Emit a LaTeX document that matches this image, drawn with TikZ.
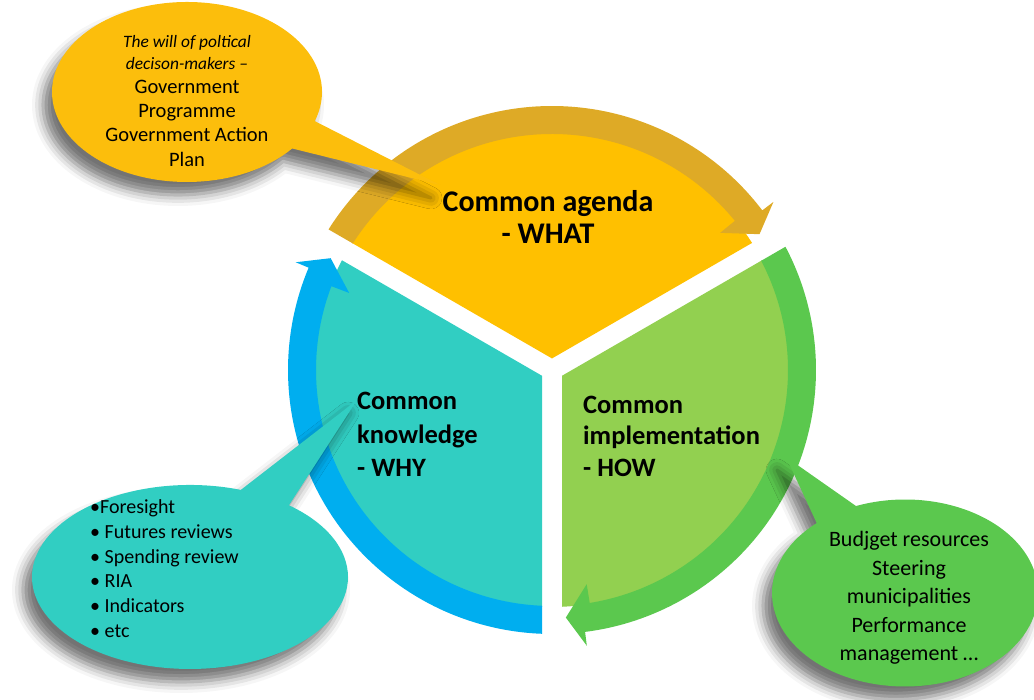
\documentclass[tikz,border=0pt]{standalone}
\usepackage{fontspec}
\setmainfont{Carlito}
\usetikzlibrary{shapes.callouts,shadows.blur}
\definecolor{agendaFill}{HTML}{FFC000}
\definecolor{agendaBand}{HTML}{DEAA26}
\definecolor{agendaNote}{HTML}{FCBE0C}
\definecolor{whyFill}{HTML}{31CEC2}
\definecolor{whyBand}{HTML}{00AEEF}
\definecolor{howFill}{HTML}{92D050}
\definecolor{howBand}{HTML}{5BC84E}

% one slice of the wheel, pulled away from the hub to leave a white gap
\newcommand{\slice}[3]{%
  \fill[#1] ({(#2+#3)/2}:11.55) -- ({#3-\dR}:\R)
    arc[start angle={#3-\dR}, end angle={#2+\dR}, radius=\R] -- cycle;}
% band with arrow head, running clockwise from angle #2 down to angle #3
\newcommand{\ringarrow}[3]{%
  \fill[#1] ({#2-\dO}:\ro) arc[start angle={#2-\dO}, end angle={#3+7.2}, radius=\ro]
    -- ({#3+7.2}:278) -- ({#3+3.2}:248) -- ({#3+9.2}:217) -- ({#3+9.2}:\ri)
    arc[start angle={#3+9.2}, end angle={#2-\dI}, radius=\ri] -- cycle;}

\begin{document}
\begin{tikzpicture}[x=1pt, y=1pt,
        note/.style={
            ellipse callout,
            draw=none,
            inner sep=0pt,
            callout pointer arc=20,
            blur shadow={shadow xshift=-9pt, shadow yshift=-13pt,
                shadow blur radius=11pt, shadow opacity=55}
        },
        toplabel/.style={
            font=\fontsize{30}{36}\selectfont\bfseries,
            anchor=base,
            inner sep=0pt
        },
        sidelabel/.style={
            font=\fontsize{26.5}{33}\selectfont\bfseries,
            anchor=base west,
            inner sep=0pt
        },
        willtext/.style={
            font=\fontsize{17.4}{23}\selectfont\itshape,
            anchor=base,
            inner sep=0pt
        },
        notetext/.style={
            font=\fontsize{20.5}{24}\selectfont,
            anchor=base,
            inner sep=0pt
        },
        listtext/.style={
            font=\fontsize{20}{24}\selectfont,
            anchor=base west,
            inner sep=0pt
        },
        howtext/.style={
            font=\fontsize{22}{28}\selectfont,
            anchor=base,
            inner sep=0pt
        }
    ]

    \useasboundingbox (0,0) rectangle (1034,700);
    \coordinate (hub) at (552,330);

    \def\R{237}  \def\dR{2.42}
    \def\ro{264} \def\dO{2.17}
    \def\ri{236} \def\dI{2.43}

    % the wheel
    \begin{scope}[shift={(hub)}]
        \slice{agendaFill}{30}{150}
        \slice{whyFill}{150}{270}
        \slice{howFill}{-90}{30}
        \ringarrow{agendaBand}{150}{30}
        \ringarrow{whyBand}{270}{150}
        \ringarrow{howBand}{30}{-90}
    \end{scope}

    \foreach \txt [count=\i] in {Common agenda, - WHAT}{
        \node[toplabel] (agenda\i) at (548, {488.3-(\i-1)*32.3}) {\txt};
    }
    \foreach \txt [count=\i] in {Common, knowledge, - WHY}{
        \node[sidelabel] (why\i) at (357, {290-(\i-1)*33.5}) {\txt};
    }
    \foreach \txt [count=\i] in {Common, implementation, - HOW}{
        \node[sidelabel] (how\i) at (583, {286.7-(\i-1)*31.7}) {\txt};
    }

    % speech bubbles
    \node[note, fill=agendaNote, minimum width=270pt, minimum height=180pt,
        callout absolute pointer={(440,515)}] (agendanote) at (187,608) {};
    \node[note, fill=whyFill, minimum width=316pt, minimum height=184pt,
        callout absolute pointer={(357,300)}] (whynote) at (190,123) {};
    \node[note, fill=howBand, minimum width=266pt, minimum height=187pt,
        callout absolute pointer={(786,243)}] (hownote) at (905,107) {};

    \node[willtext] (will1) at (187,652.5) {The will of poltical};
    \node[willtext] (will2) at (187,630.5) {decison-makers –};
    \foreach \txt [count=\i] in {Government, Programme, Government Action, Plan}{
        \node[notetext] (gov\i) at (187, {606.5-(\i-1)*24.2}) {\txt};
    }
    \foreach \txt [count=\i] in {•Foresight, • Futures reviews, • Spending review, • RIA, • Indicators, • etc}{
        \node[listtext] (item\i) at (90, {186.5-(\i-1)*24.8}) {\txt};
    }
    \foreach \txt [count=\i] in {Budjget resources, Steering, municipalities, Performance, management \ldots}{
        \node[howtext] (means\i) at (909, {153-(\i-1)*28.5}) {\txt};
    }

\end{tikzpicture}
\end{document}
